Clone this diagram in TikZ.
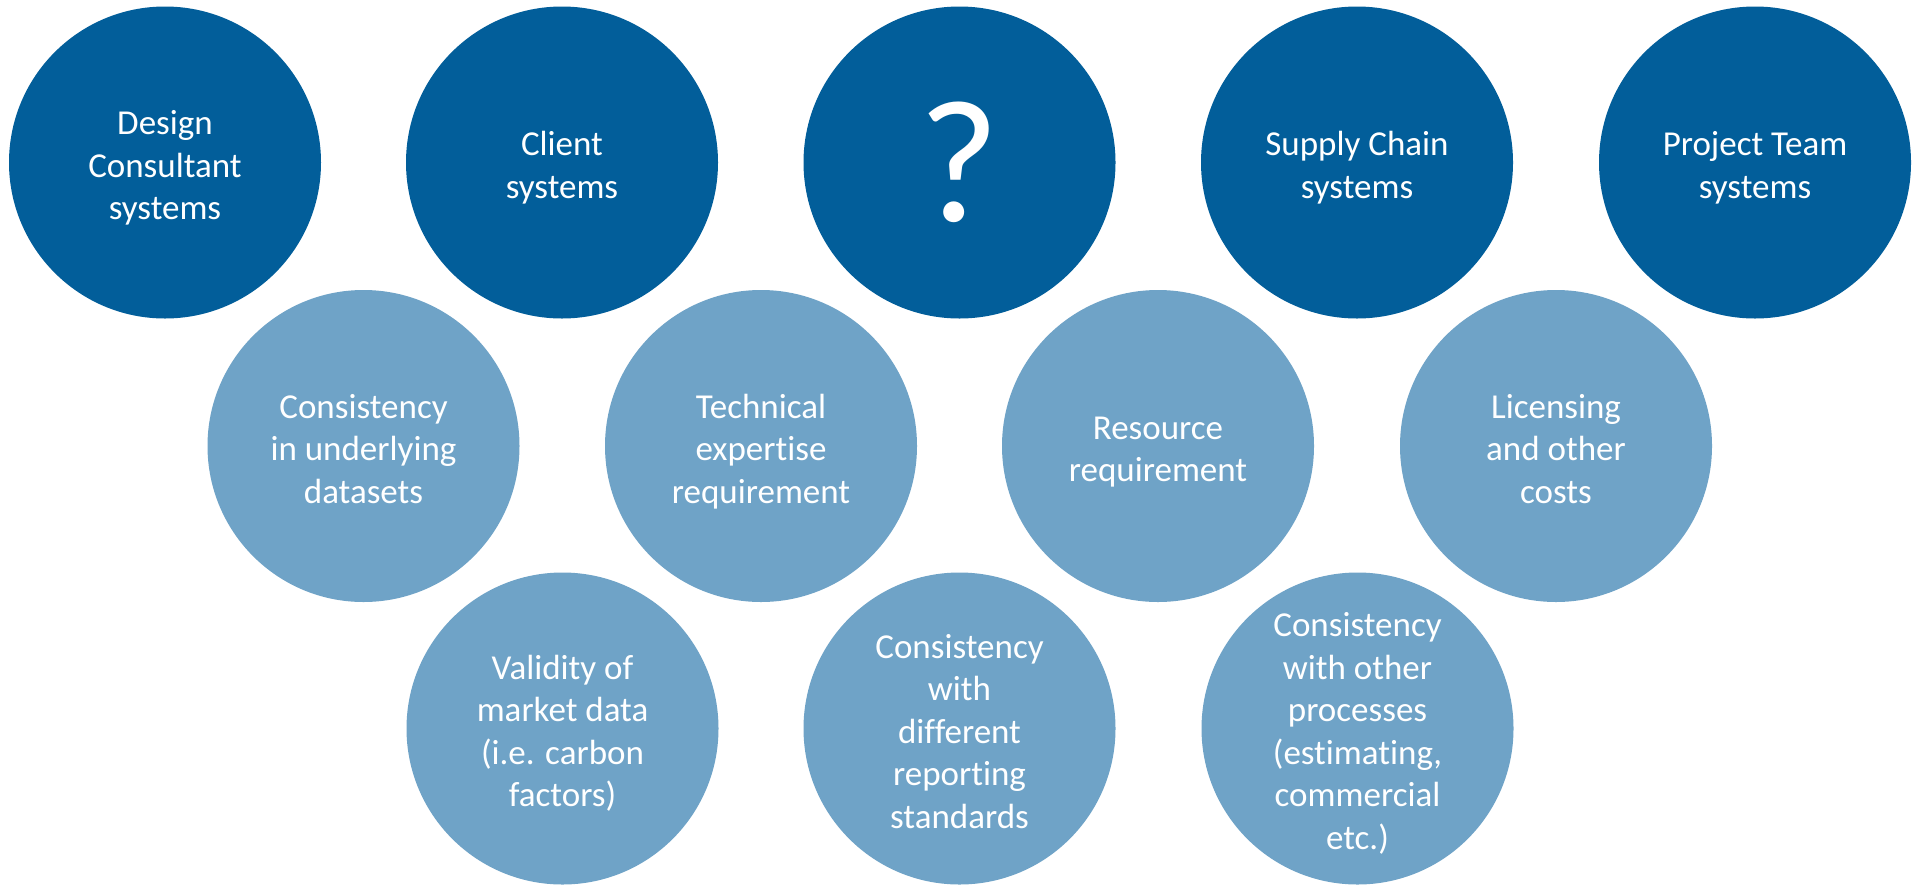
\documentclass[tikz,border=0pt]{standalone}
\usepackage{fontspec}
\setmainfont{Carlito}[Ligatures={NoCommon}]
\definecolor{darkblue}{HTML}{025E9A}
\definecolor{lightblue}{HTML}{6FA3C7}
\newcommand{\btext}[1]{\raisebox{-6pt}[\height][\depth]{\begin{tabular}{@{}c@{}}#1\end{tabular}}}
\begin{document}
\begin{tikzpicture}[x=1pt,y=-1pt,
  bubble/.style={circle,minimum size=312pt,inner sep=0pt,text=white,align=center,
    font=\fontsize{35}{42.5}\selectfont},
  darkbubble/.style={bubble,fill=darkblue},
  lightbubble/.style={bubble,fill=lightblue}]
\fill[white] (0,0) rectangle (1918,884);
\useasboundingbox (0,0) rectangle (1918,884);
\node[darkbubble] (d1) at (165,162.5) {\btext{Design\\Consultant\\systems}};
\node[darkbubble] (d2) at (562,162.5) {\btext{Client\\systems}};
\node[darkbubble,font=\fontsize{175}{180}\selectfont] (d3) at (959.5,162.5) {?};
\node[darkbubble] (d4) at (1357,162.5) {\btext{Supply Chain\\systems}};
\node[darkbubble] (d5) at (1755,162.5) {\btext{Project Team\\systems}};
\node[lightbubble] (l1) at (363.5,446) {\btext{Consistency\\in underlying\\datasets}};
\node[lightbubble] (l2) at (761,446) {\btext{Technical\\expertise\\requirement}};
\node[lightbubble] (l3) at (1158,446) {\btext{Resource\\requirement}};
\node[lightbubble] (l4) at (1556,446) {\btext{Licensing\\and other\\costs}};
\node[lightbubble] (m1) at (562.5,728.5) {\btext{Validity of\\market data\\(i.e. carbon\\factors)}};
\node[lightbubble] (m2) at (959.5,728.5) {\btext{Consistency\\with\\different\\reporting\\standards}};
\node[lightbubble] (m3) at (1357.5,728.5) {\btext{Consistency\\with other\\processes\\(estimating,\\commercial\\etc.)}};
\end{tikzpicture}
\end{document}
